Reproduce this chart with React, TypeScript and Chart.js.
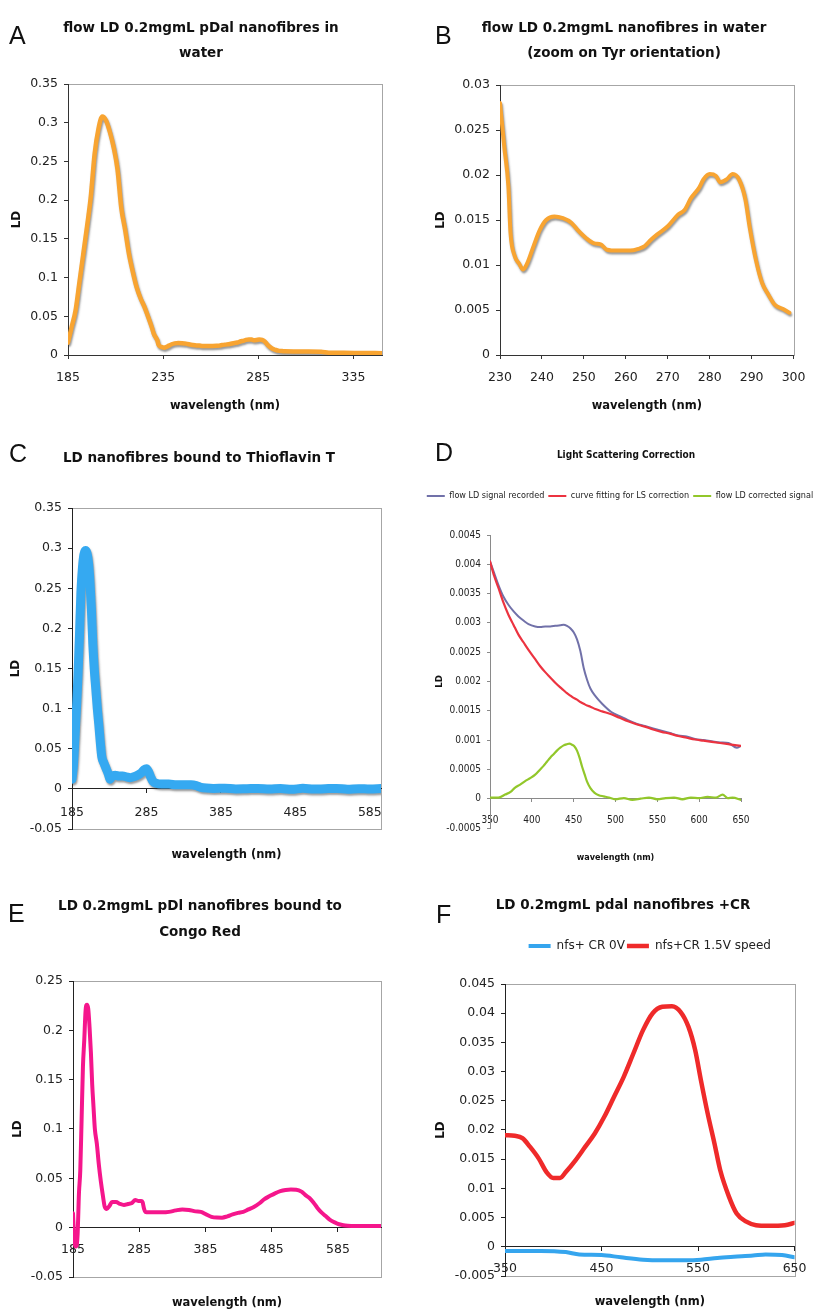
import React, { useEffect, useRef } from 'react';
import { Chart, registerables } from 'chart.js';

Chart.register(...registerables);

// ---------------- DATA ----------------
// Panel A (185-229 nm part) - flow LD 0.2mgmL pDal nanofibres in water
const aHeadWavelength = [185, 187, 189, 191, 193, 195, 197, 199, 201, 203, 205, 207, 209, 211, 213, 215, 217, 219, 221, 223, 225, 227, 229];
const aHeadLD = [0.016, 0.037, 0.058, 0.094, 0.13, 0.166, 0.205, 0.26, 0.292, 0.308, 0.303, 0.288, 0.268, 0.24, 0.19, 0.162, 0.131, 0.108, 0.088, 0.074, 0.063, 0.05, 0.036];
// Tyr region (shared by A and B, 230-299 nm)
const tyrWavelength = [230, 231, 232, 232.5, 233.5, 234.5, 235.5, 236.5, 238, 239.5, 241, 243, 245, 247, 248.5, 250.5, 252.5, 254, 255.5, 258, 261, 263, 264.5, 266, 267.5, 270, 272.5, 274, 275.5, 277.5, 278.5, 280, 281.5, 282.5, 284, 285.5, 287, 288.5, 289.5, 291, 292.5, 294, 295.5, 297.5, 299];
const tyrLD = [0.028, 0.0232, 0.0187, 0.0136, 0.011, 0.0102, 0.0095, 0.0102, 0.0121, 0.0139, 0.015, 0.0154, 0.0152, 0.0147, 0.0139, 0.013, 0.0124, 0.0123, 0.0117, 0.0116, 0.0116, 0.0118, 0.0121, 0.0128, 0.0134, 0.0143, 0.0156, 0.0161, 0.0174, 0.0186, 0.0195, 0.0201, 0.0199, 0.0192, 0.0195, 0.0201, 0.0195, 0.0173, 0.0143, 0.0106, 0.008, 0.0067, 0.0056, 0.0051, 0.0047];
// Panel A tail (300-350 nm)
const aTailWavelength = [305, 310, 318, 322, 330, 340, 350];
const aTailLD = [0.0045, 0.0044, 0.0042, 0.003, 0.0028, 0.0025, 0.0024];
const aXTicks = [185, 235, 285, 335];
const aYTicks = [0, 0.05, 0.1, 0.15, 0.2, 0.25, 0.3, 0.35];
const bXTicks = [230, 240, 250, 260, 270, 280, 290, 300];
const bYTicks = [0, 0.005, 0.01, 0.015, 0.02, 0.025, 0.03];

// Panel C - LD nanofibres bound to Thioflavin T
const cWavelength = [185, 187, 189, 191, 193, 195, 197, 199, 201, 203, 205, 207, 209, 211, 213, 215, 217, 219, 221, 223, 225, 228, 231, 234, 236, 239, 243, 248, 253, 258, 263, 268, 273, 278, 282, 285, 288, 291, 294, 298, 305, 315, 325, 335, 345, 352, 358, 365, 375, 390, 405, 420, 435, 450, 465, 480, 495, 510, 525, 540, 555, 570, 585, 600];
const cLD = [0.012, 0.03, 0.064, 0.1, 0.14, 0.19, 0.245, 0.275, 0.292, 0.297, 0.294, 0.283, 0.26, 0.225, 0.18, 0.148, 0.124, 0.1, 0.08, 0.058, 0.04, 0.032, 0.025, 0.018, 0.012, 0.016, 0.017, 0.016, 0.016, 0.015, 0.014, 0.015, 0.017, 0.02, 0.024, 0.025, 0.021, 0.014, 0.009, 0.007, 0.006, 0.006, 0.005, 0.005, 0.005, 0.004, 0.002, 0.001, 0.0005, 0.0008, 0, 0.0003, 0.0006, -0.0002, 0.0004, -0.0006, 0.0007, -0.0003, 0.0002, 0.0006, -0.0004, 0.0003, -0.0002, 0.0004];
const cXTicks = [185, 285, 385, 485, 585];
const cYTicks = [-0.05, 0, 0.05, 0.1, 0.15, 0.2, 0.25, 0.3, 0.35];

// Panel D - Light Scattering Correction
const dWavelength = [350, 355, 360, 366, 372, 378, 384, 390, 396, 404, 410, 416, 422, 428, 434, 438, 442, 446, 450, 454, 458, 462, 466, 470, 476, 484, 495, 505, 515, 525, 535, 545, 555, 565, 575, 585, 595, 605, 615, 625, 635, 645, 650];
const dRecorded = [0.00405, 0.00385, 0.00365, 0.00345, 0.00331, 0.0032, 0.00311, 0.00304, 0.00298, 0.00294, 0.00293, 0.00294, 0.00294, 0.00295, 0.00296, 0.00297, 0.00295, 0.00291, 0.00284, 0.00272, 0.00252, 0.00223, 0.00203, 0.00188, 0.00175, 0.00162, 0.00148, 0.00141, 0.00134, 0.00128, 0.00124, 0.0012, 0.00116, 0.00112, 0.00108, 0.00106, 0.00102, 0.001, 0.00098, 0.00096, 0.00095, 0.00087, 0.0009];
const dFit = [0.00405, 0.0038, 0.0036, 0.00335, 0.00314, 0.00297, 0.0028, 0.00267, 0.00254, 0.00238, 0.00226, 0.00216, 0.00207, 0.00198, 0.0019, 0.00185, 0.0018, 0.00176, 0.00172, 0.00169, 0.00165, 0.00162, 0.00159, 0.00157, 0.00153, 0.00149, 0.00144, 0.00138, 0.00132, 0.00127, 0.00123, 0.00118, 0.00114, 0.00111, 0.00107, 0.00104, 0.00101, 0.00099, 0.00097, 0.00095, 0.00093, 0.00091, 0.0009];
const dCorrWavelength = [350, 360, 368, 375, 380, 386, 392, 398, 404, 410, 414, 418, 422, 426, 430, 434, 438, 442, 445, 448, 451, 454, 457, 460, 463, 466, 470, 475, 480, 486, 492, 500, 510, 520, 530, 540, 550, 560, 570, 580, 590, 600, 610, 620, 628, 634, 640, 650];
const dCorrected = [0.00002, 0.00002, 0.00007, 0.00012, 0.00019, 0.00024, 0.0003, 0.00035, 0.00041, 0.0005, 0.00056, 0.00063, 0.0007, 0.00076, 0.00082, 0.00087, 0.00091, 0.00093, 0.00094, 0.00092, 0.00089, 0.00082, 0.0007, 0.00055, 0.00042, 0.00029, 0.00018, 0.0001, 0.00006, 0.00004, 0.00002, -0.00001, 0.00001, -0.00002, 0, 0.00002, -0.00001, 0.00001, 0.00002, -0.00001, 0.00002, 0.00001, 0.00003, 0.00002, 0.00007, 0.00001, 0.00002, -0.00002];
const dXTicks = [350, 400, 450, 500, 550, 600, 650];
const dYTicks = [-0.0005, 0, 0.0005, 0.001, 0.0015, 0.002, 0.0025, 0.003, 0.0035, 0.004, 0.0045];

// Panel E - LD 0.2mgmL pDl nanofibres bound to Congo Red
const eWavelength = [185, 187, 189, 190, 192, 194, 196, 198, 200, 202, 204, 206, 208, 210, 212, 214, 216, 218, 221, 224, 227, 230, 233, 236, 240, 244, 250, 256, 262, 268, 274, 279, 284, 288, 290, 292, 294, 300, 310, 320, 330, 340, 350, 360, 370, 378, 386, 394, 402, 410, 418, 426, 434, 442, 450, 458, 466, 474, 482, 490, 498, 506, 514, 522, 530, 536, 542, 548, 554, 560, 566, 572, 578, 584, 590, 596, 605, 620, 635, 650];
const eLD = [0.0145, -0.0125, -0.019, -0.019, -0.006, 0.035, 0.058, 0.11, 0.163, 0.19, 0.22, 0.226, 0.222, 0.203, 0.178, 0.145, 0.122, 0.1, 0.085, 0.064, 0.047, 0.033, 0.021, 0.019, 0.022, 0.026, 0.026, 0.024, 0.023, 0.024, 0.025, 0.028, 0.027, 0.027, 0.026, 0.02, 0.016, 0.0155, 0.0155, 0.0155, 0.016, 0.0175, 0.0185, 0.018, 0.0165, 0.016, 0.0135, 0.011, 0.0102, 0.0101, 0.0115, 0.0135, 0.015, 0.016, 0.0185, 0.021, 0.0245, 0.029, 0.032, 0.0348, 0.037, 0.0382, 0.0387, 0.0385, 0.0365, 0.033, 0.03, 0.0255, 0.02, 0.0155, 0.012, 0.0085, 0.006, 0.0042, 0.003, 0.0022, 0.0018, 0.0017, 0.0017, 0.0017];
const eXTicks = [185, 285, 385, 485, 585];
const eYTicks = [-0.05, 0, 0.05, 0.1, 0.15, 0.2, 0.25];

// Panel F - LD 0.2mgmL pdal nanofibres +CR
const fRedWavelength = [350, 360, 368, 376, 385, 393, 400, 407, 413, 423, 433, 443, 453, 463, 473, 483, 493, 503, 513, 523, 532, 540, 547, 553, 560, 567, 573, 582, 590, 600, 610, 623, 640, 650];
const fRedLD = [0.0191, 0.019, 0.0186, 0.0171, 0.0151, 0.0128, 0.0118, 0.0118, 0.0128, 0.0148, 0.0171, 0.0194, 0.0223, 0.0257, 0.0291, 0.0331, 0.0371, 0.04, 0.0411, 0.0412, 0.0402, 0.0377, 0.0337, 0.0285, 0.0228, 0.0177, 0.0131, 0.0086, 0.0057, 0.0043, 0.0037, 0.0036, 0.0037, 0.0041];
const fBlueWavelength = [350, 387, 413, 427, 450, 470, 493, 513, 537, 553, 570, 587, 607, 620, 637, 650];
const fBlueLD = [-0.0007, -0.0007, -0.0009, -0.0013, -0.0014, -0.0018, -0.0022, -0.0023, -0.0023, -0.0022, -0.0019, -0.0017, -0.0015, -0.0013, -0.0014, -0.0018];
const fXTicks = [350, 450, 550, 650];
const fYTicks = [-0.005, 0, 0.005, 0.01, 0.015, 0.02, 0.025, 0.03, 0.035, 0.04, 0.045];

// ---------------- STYLE / LAYOUT ----------------
const DEJAVU = "'DejaVu Sans', Verdana, sans-serif";
const NARROW = "'Liberation Sans Narrow', 'DejaVu Sans Condensed', 'Liberation Sans', sans-serif";
const LETTER = "'Liberation Sans', Arial, sans-serif";

Chart.defaults.font.family = DEJAVU;
Chart.defaults.color = '#222';

const framePlugin = {
  id: 'frame',
  beforeDraw(chart: any, _args: any, opts: any) {
    if (!opts || !opts.color) return;
    const { left, top, right, bottom } = chart.chartArea;
    const ctx = chart.ctx;
    ctx.save();
    ctx.strokeStyle = opts.color;
    ctx.lineWidth = 1;
    ctx.strokeRect(Math.round(left) + 0.5, Math.round(top) + 0.5, Math.round(right - left), Math.round(bottom - top));
    ctx.restore();
  },
};

const shadowPlugin = {
  id: 'lineShadow',
  beforeDatasetDraw(chart: any, _args: any, opts: any) {
    if (!opts || !opts.color) return;
    const ctx = chart.ctx;
    ctx.save();
    ctx.shadowColor = opts.color;
    ctx.shadowBlur = opts.blur;
    ctx.shadowOffsetX = opts.dx;
    ctx.shadowOffsetY = opts.dy;
  },
  afterDatasetDraw(chart: any, _args: any, opts: any) {
    if (!opts || !opts.color) return;
    chart.ctx.restore();
  },
};

function buildConfig(s: any): any {
  const datasets = s.series.map((se: any) => ({
    label: se.label,
    data: se.wl.map((x: number, i: number) => ({ x, y: se.ld[i] })),
    borderColor: se.color,
    backgroundColor: se.color,
    borderWidth: se.width,
    pointRadius: 0,
    pointHoverRadius: 0,
    pointHitRadius: 0,
    cubicInterpolationMode: 'monotone',
    fill: false,
    borderJoinStyle: 'round',
    borderCapStyle: 'round',
    order: se.order ?? 0,
  }));
  const grid = { display: true, drawOnChartArea: false, drawTicks: true, tickLength: s.tickLen, color: s.axisColor, tickColor: s.axisColor, lineWidth: 1 };
  const border = { display: true, color: s.axisColor, width: 1 };
  const scales: any = {
    x: {
      type: 'linear',
      position: s.xAtZero ? { y: 0 } : 'bottom',
      min: s.xMin,
      max: s.xMax,
      afterBuildTicks: (sc: any) => { sc.ticks = s.xTicks.map((v: number) => ({ value: v })); },
      afterFit: (sc: any) => { sc.height = s.xHeight; },
      grid,
      border,
      ticks: { font: { family: s.tickFont, size: s.tickSize }, color: '#222', padding: s.xTickPad, maxRotation: 0, minRotation: 0, autoSkip: false, callback: (v: any) => String(v) },
      title: { display: true, text: 'wavelength (nm)', font: { family: s.titleFont, size: s.xTitleSize, weight: 'bold' }, color: '#111', padding: s.xTitlePad },
    },
    y: {
      type: 'linear',
      position: 'left',
      min: s.yMin,
      max: s.yMax,
      afterBuildTicks: (sc: any) => { sc.ticks = s.yTicks.map((v: number) => ({ value: v })); },
      afterFit: (sc: any) => { sc.width = s.yWidth; },
      grid,
      border,
      ticks: { font: { family: s.tickFont, size: s.tickSize }, color: '#222', padding: 6, autoSkip: false, callback: (v: any) => String(+Number(v).toFixed(6)) },
      title: { display: true, text: 'LD', font: { family: s.titleFont, size: s.yTitleSize, weight: 'bold' }, color: '#111', padding: s.yTitlePad },
    },
  };
  if (s.rightWidth) {
    scales.yRight = {
      type: 'linear', position: 'right', display: true,
      grid: { display: false }, border: { display: false }, ticks: { display: false }, title: { display: false },
      afterFit: (sc: any) => { sc.width = s.rightWidth; },
    };
  }
  const lg = s.legend;
  return {
    type: 'line',
    data: { datasets },
    plugins: [framePlugin, shadowPlugin],
    options: {
      responsive: false,
      animation: false,
      events: [],
      layout: { padding: s.pad },
      scales,
      plugins: {
        legend: lg
          ? {
              display: true, position: 'top', fullSize: lg.fullSize, weight: 1000,
              labels: {
                usePointStyle: true, pointStyle: 'line', pointStyleWidth: lg.lineW, padding: lg.padding,
                font: { family: lg.family, size: lg.size }, color: '#222',
                sort: (a: any, b: any) => a.datasetIndex - b.datasetIndex,
              },
            }
          : { display: false },
        subtitle: lg
          ? { display: true, text: '', position: 'top', weight: 10, font: { size: 10, lineHeight: 1 }, padding: { top: lg.spacer - 10, bottom: 0 } }
          : { display: false },
        title: { display: false },
        tooltip: { enabled: false },
        frame: s.frame ? { color: s.frame } : {},
        lineShadow: s.shadow ? s.shadow : {},
      },
    },
  };
}

const orange = '#f8a431';
const orangeShadow = { color: 'rgba(70,70,70,0.55)', blur: 2, dx: 1, dy: 2 };

const specA = {
  left: 0, top: 0, width: 410, height: 415,
  series: [{ label: 'LD', wl: [...aHeadWavelength, ...tyrWavelength, ...aTailWavelength], ld: [...aHeadLD, ...tyrLD, ...aTailLD], color: orange, width: 4.5 }],
  xMin: 185, xMax: 350, xTicks: aXTicks, yMin: 0, yMax: 0.35, yTicks: aYTicks, xAtZero: false,
  pad: { top: 84, right: 28, bottom: 0, left: 0 }, yWidth: 68, xHeight: 60,
  yTitlePad: 9.8, xTitlePad: 2.1, xTickPad: 11.5,
  tickFont: DEJAVU, tickSize: 12.5, titleFont: DEJAVU, yTitleSize: 12, xTitleSize: 11.5,
  axisColor: '#333', tickLen: 4, frame: '#a6a6a6', shadow: orangeShadow,
};

const specB = {
  left: 410, top: 0, width: 407, height: 415,
  series: [{ label: 'LD', wl: tyrWavelength, ld: tyrLD, color: orange, width: 4 }],
  xMin: 230, xMax: 300, xTicks: bXTicks, yMin: 0, yMax: 0.03, yTicks: bYTicks, xAtZero: false,
  pad: { top: 85, right: 12, bottom: 0, left: 0 }, yWidth: 90, xHeight: 60,
  yTitlePad: 24.1, xTitlePad: 2.1, xTickPad: 11.5,
  tickFont: DEJAVU, tickSize: 12.5, titleFont: DEJAVU, yTitleSize: 12, xTitleSize: 11.5,
  axisColor: '#333', tickLen: 4, frame: '#a6a6a6', shadow: orangeShadow,
};

const specC = {
  left: 0, top: 420, width: 410, height: 445,
  series: [{ label: 'LD', wl: cWavelength, ld: cLD, color: '#35a9f1', width: 9 }],
  xMin: 185, xMax: 600, xTicks: cXTicks, yMin: -0.05, yMax: 0.35, yTicks: cYTicks, xAtZero: true,
  pad: { top: 88, right: 29, bottom: 36, left: 0 }, yWidth: 72, xHeight: 72.9,
  yTitlePad: 8.8, xTitlePad: 0, xTickPad: 12.5,
  tickFont: DEJAVU, tickSize: 12.5, titleFont: DEJAVU, yTitleSize: 12, xTitleSize: 11.5,
  axisColor: '#222', tickLen: 4, frame: '#a6a6a6', shadow: { color: 'rgba(60,60,60,0.5)', blur: 2, dx: 1, dy: 2 },
};

const specD = {
  left: 410, top: 420, width: 420, height: 446,
  series: [
    { label: 'flow LD signal recorded', wl: dWavelength, ld: dRecorded, color: '#7171a9', width: 2, order: 2 },
    { label: 'curve fitting for LS correction', wl: dWavelength, ld: dFit, color: '#ec3340', width: 2.2, order: 1 },
    { label: 'flow LD corrected signal', wl: dCorrWavelength, ld: dCorrected, color: '#92c72a', width: 2.2, order: 0 },
  ],
  xMin: 350, xMax: 650, xTicks: dXTicks, yMin: -0.0005, yMax: 0.0045, yTicks: dYTicks, xAtZero: true,
  pad: { top: 67.5, right: 0, bottom: 38, left: 0 }, yWidth: 80, rightWidth: 89, xHeight: 64.4,
  yTitlePad: 24, xTitlePad: 0, xTickPad: 12.7,
  tickFont: NARROW, tickSize: 10, titleFont: NARROW, yTitleSize: 9.5, xTitleSize: 9,
  axisColor: '#8a8a8a', tickLen: 3,
  legend: { fullSize: true, padding: 4, size: 9, family: NARROW, lineW: 18, spacer: 24.5 },
};

const specE = {
  left: 0, top: 880, width: 410, height: 431,
  series: [{ label: 'LD', wl: eWavelength, ld: eLD, color: '#f5168c', width: 4 }],
  xMin: 185, xMax: 650, xTicks: eXTicks, yMin: -0.05, yMax: 0.25, yTicks: eYTicks, xAtZero: true,
  pad: { top: 101, right: 29, bottom: 34, left: 0 }, yWidth: 73, xHeight: 81.9,
  yTitlePad: 10.8, xTitlePad: 0, xTickPad: 11,
  tickFont: DEJAVU, tickSize: 12.5, titleFont: DEJAVU, yTitleSize: 12, xTitleSize: 11.5,
  axisColor: '#222', tickLen: 4, frame: '#a6a6a6',
};

const specF = {
  left: 410, top: 880, width: 407, height: 431,
  series: [
    { label: 'nfs+ CR 0V', wl: fBlueWavelength, ld: fBlueLD, color: '#35a5ee', width: 4 },
    { label: 'nfs+CR 1.5V speed', wl: fRedWavelength, ld: fRedLD, color: '#ef2a2a', width: 4.5 },
  ],
  xMin: 350, xMax: 650, xTicks: fXTicks, yMin: -0.005, yMax: 0.045, yTicks: fYTicks, xAtZero: true,
  pad: { top: 58, right: 12, bottom: 35, left: 0 }, yWidth: 95, xHeight: 62.6,
  yTitlePad: 23.8, xTitlePad: 0, xTickPad: 10.5,
  tickFont: DEJAVU, tickSize: 12.5, titleFont: DEJAVU, yTitleSize: 12, xTitleSize: 11.5,
  axisColor: '#222', tickLen: 4, frame: '#a6a6a6',
  legend: { fullSize: false, padding: 2, size: 12, family: DEJAVU, lineW: 22, spacer: 22 },
};

const panels = [specA, specB, specC, specD, specE, specF];

const titles = [
  { cx: 201, top: 14.8, lh: 25, size: 13.5, family: DEJAVU, text: 'flow LD 0.2mgmL pDal nanofibres in\nwater' },
  { cx: 624, top: 15, lh: 25, size: 13.5, family: DEJAVU, text: 'flow LD 0.2mgmL nanofibres in water\n(zoom on Tyr orientation)' },
  { cx: 199, top: 444.5, lh: 25, size: 13.5, family: DEJAVU, text: 'LD nanofibres bound to Thioflavin T' },
  { cx: 626, top: 447.7, lh: 13, size: 10, family: NARROW, text: 'Light Scattering Correction' },
  { cx: 200, top: 891.5, lh: 26, size: 13.5, family: DEJAVU, text: 'LD 0.2mgmL pDl nanofibres bound to\nCongo Red' },
  { cx: 623, top: 892, lh: 25, size: 13.5, family: DEJAVU, text: 'LD 0.2mgmL pdal nanofibres +CR' },
];

const letters = [
  { x: 9, y: 23, text: 'A' },
  { x: 435, y: 23, text: 'B' },
  { x: 9, y: 441, text: 'C' },
  { x: 435, y: 440, text: 'D' },
  { x: 8, y: 901, text: 'E' },
  { x: 436, y: 902, text: 'F' },
];

function ChartPanel({ spec }: { spec: any }) {
  const ref = useRef<HTMLCanvasElement>(null);
  useEffect(() => {
    const chart = new Chart(ref.current as HTMLCanvasElement, buildConfig(spec));
    return () => chart.destroy();
  }, [spec]);
  return (
    <canvas
      ref={ref}
      width={spec.width}
      height={spec.height}
      style={{ position: 'absolute', left: spec.left, top: spec.top, width: spec.width, height: spec.height }}
    />
  );
}

export default function App() {
  return (
    <div style={{ position: 'absolute', left: 0, top: 0, width: 817, height: 1311, overflow: 'hidden', background: '#fff' }}>
      {panels.map((p, i) => (
        <ChartPanel key={i} spec={p} />
      ))}
      {titles.map((t, i) => (
        <div
          key={'t' + i}
          style={{
            position: 'absolute', left: t.cx - 250, top: t.top, width: 500, textAlign: 'center',
            fontFamily: t.family, fontSize: t.size, fontWeight: 'bold', lineHeight: t.lh + 'px',
            color: '#111', whiteSpace: 'pre',
          }}
        >
          {t.text}
        </div>
      ))}
      {letters.map((l, i) => (
        <div
          key={'l' + i}
          style={{ position: 'absolute', left: l.x, top: l.y, fontFamily: LETTER, fontSize: 25, lineHeight: '25px', color: '#111' }}
        >
          {l.text}
        </div>
      ))}
    </div>
  );
}
